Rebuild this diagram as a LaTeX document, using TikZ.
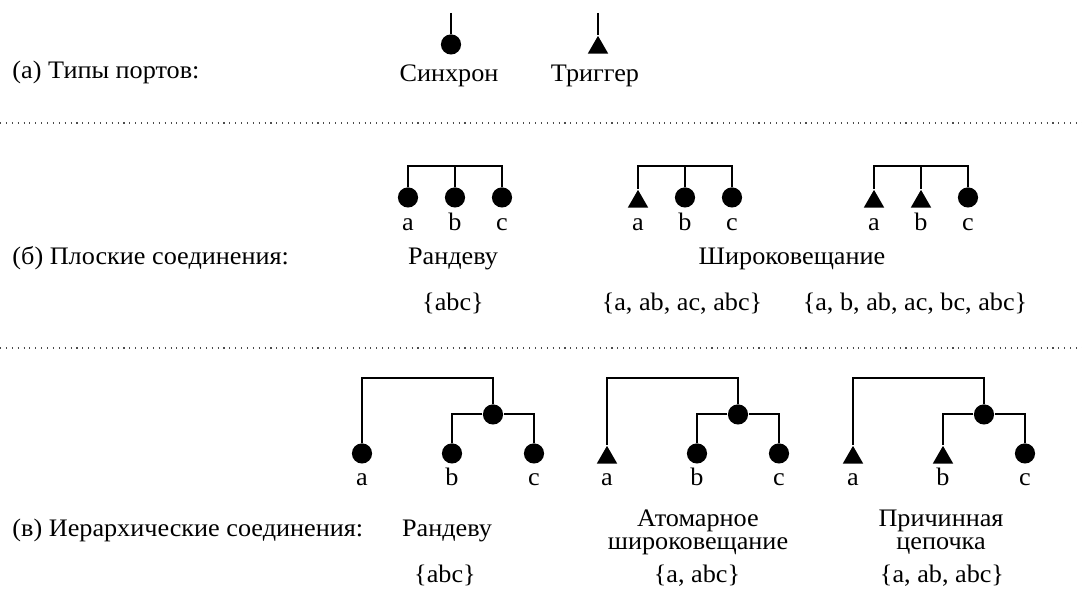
\documentclass[tikz,border=0pt]{standalone}
\usepackage{fontspec}
\setmainfont{Liberation Serif}[FakeStretch=1.04]
\usetikzlibrary{shapes.geometric}

\tikzset{
    sync/.style={circle, fill=black, inner sep=0pt, minimum size=8.4pt, anchor=south},
    trig/.style={regular polygon, regular polygon sides=3, fill=black, inner sep=0pt, minimum size=9.8pt, anchor=south},
    wire/.style={line width=0.85pt},
    sepline/.style={dotted, black!70, line width=0.45pt},
    txt/.style={inner sep=0pt, anchor=base, font=\fontsize{10.5}{9.8}\selectfont},
}

\begin{document}
\begin{tikzpicture}[x=0.4167pt, y=-0.4167pt]
    \useasboundingbox (0,0) rectangle (1082,603);

    % Separators
    \coordinate (sepAw) at (0,123);
    \coordinate (sepAe) at (1082,123);
    \coordinate (sepBw) at (0,348);
    \coordinate (sepBe) at (1082,348);
    \draw[sepline] (sepAw) -- (sepAe);
    \draw[sepline] (sepBw) -- (sepBe);

    % (a) Port types
    \node[txt, anchor=base west] (rowA) at (12,79) {(а) Типы портов:};
    \node[sync] (syncP) at (451,55) {};
    \coordinate (syncTop) at (451,13);
    \draw[wire] (syncTop) -- (syncP);
    \node[txt] (syncL) at (449,82) {Синхрон};
    \node[trig] (trigP) at (598,54) {};
    \coordinate (trigTop) at (598,13);
    \draw[wire] (trigTop) -- (trigP);
    \node[txt] (trigL) at (595,82) {Триггер};

    % (b) Flat connections
    \node[txt, anchor=base west] (rowB) at (12,265) {(б) Плоские соединения:};
    \foreach \g/\x/\ta/\tb/\tc in {1/408/sync/sync/sync, 2/638/trig/sync/sync, 3/874/trig/trig/sync} {
        \node[\ta] (f\g-a) at (\x,208) {};
        \node[\tb] (f\g-b) at (\x+47,208) {};
        \node[\tc] (f\g-c) at (\x+94,208) {};
        \coordinate (f\g-bar) at (\x+47,166);
        \draw[wire] (f\g-a) |- (f\g-bar) -| (f\g-c);
        \draw[wire] (f\g-b) -- (f\g-bar);
        \node[txt] (f\g-la) at (\x,231) {a};
        \node[txt] (f\g-lb) at (\x+47,231) {b};
        \node[txt] (f\g-lc) at (\x+94,231) {c};
    }
    \node[txt] (flatRdv) at (453,265) {Рандеву};
    \node[txt] (flatBc) at (792,265) {Широковещание};
    \node[txt] (setF1) at (453,311) {\{abc\}};
    \node[txt] (setF2) at (682,311) {\{a, ab, ac, abc\}};
    \node[txt] (setF3) at (915,311) {\{a, b, ab, ac, bc, abc\}};

    % (c) Hierarchical connections
    \node[txt, anchor=base west] (rowC) at (12,537) {(в) Иерархические соединения:};
    \foreach \g/\x/\ta/\tb in {1/362/sync/sync, 2/607/trig/sync, 3/853/trig/trig} {
        \node[\ta] (h\g-a) at (\x,464) {};
        \node[\tb] (h\g-b) at (\x+90,464) {};
        \node[sync] (h\g-c) at (\x+172,464) {};
        \node[sync] (h\g-m) at (\x+131,425) {};
        \coordinate (h\g-top) at (\x+131,378);
        \draw[wire] (h\g-a) |- (h\g-top) -- (h\g-m);
        \draw[wire] (h\g-b) |- (h\g-m) -| (h\g-c);
        \node[txt] (h\g-la) at (\x,486) {a};
        \node[txt] (h\g-lb) at (\x+90,486) {b};
        \node[txt] (h\g-lc) at (\x+172,486) {c};
    }
    \node[txt] (hierRdv) at (447,537) {Рандеву};
    \node[txt, align=center] (hierAtom) at (698,550) {Атомарное\\широковещание};
    \node[txt, align=center] (hierCause) at (941,550) {Причинная\\цепочка};
    \node[txt] (setH1) at (445,583) {\{abc\}};
    \node[txt] (setH2) at (697,583) {\{a, abc\}};
    \node[txt] (setH3) at (942,583) {\{a, ab, abc\}};
\end{tikzpicture}
\end{document}
